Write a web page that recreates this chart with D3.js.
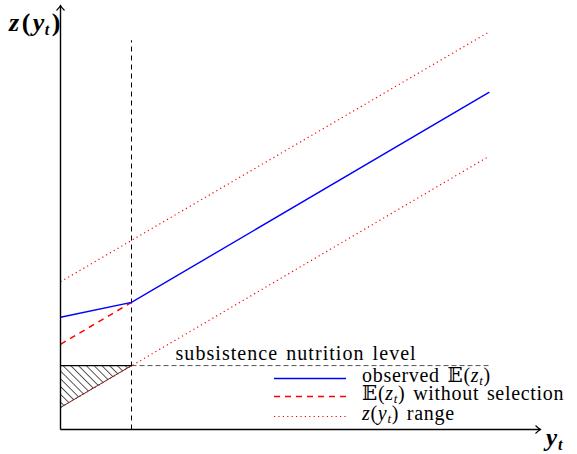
<!DOCTYPE html>
<html lang="en">
  <head>
    <meta charset="utf-8">
    <title>Nutrition and income</title>
    <script src="https://cdn.jsdelivr.net/npm/d3@7"></script>
    <style>
      body { margin: 0; background: #fff; }
      text { font-family: "Liberation Serif", "DejaVu Serif", serif; }
    </style>
  </head>
  <body>
    <script>
      // diagram values (axis units)
      var xKink = 1, xEnd = 6.04, xAxisMax = 6.76, yAxisMax = 5.97, yTop = 5.48;
      var subsistence = 0.9;
      var observedX = [0, xKink, xEnd];
      var observedY = [1.58, 1.79, 4.75];
      var noSelX = [0, xKink];
      var noSelY = [1.2, 1.79];
      var upperX = [0, xEnd];
      var upperY = [2.08, 5.6];
      var lowerX = [0, xEnd];
      var lowerY = [0.31, 3.85];
      var subsistenceEnd = 6.05;
      // legend labels as [text, kind] pieces: n = normal, i = italic, s = subscript
      var legendLabels = [
        [["observed \u{1D53C}(", "n"], ["z", "i"], ["t", "s"], [")", "n"]],
        [["\u{1D53C}(", "n"], ["z", "i"], ["t", "s"], [") without selection", "n"]],
        [["z", "i"], ["(", "n"], ["y", "i"], ["t", "s"], [") range", "n"]]
      ];

      var svg = d3.select("body").append("svg")
                  .attr("width", 577)
                  .attr("height", 454);

      var x = d3.scaleLinear().domain([0, xAxisMax]).range([60.5, 540.5]);
      var y = d3.scaleLinear().domain([0, yAxisMax]).range([429.5, 5.5]);

      var line = d3.line().x(function(d) { return x(d[0]); }).y(function(d) { return y(d[1]); });
      function pts(xs, ys) { return xs.map(function(v, i) { return [v, ys[i]]; }); }

      // hatch pattern for the triangle
      var defs = svg.append("defs");
      var pat = defs.append("pattern")
          .attr("id", "hatch").attr("patternUnits", "userSpaceOnUse")
          .attr("width", 5.5).attr("height", 5.5)
          .attr("patternTransform", "rotate(-45)");
      pat.append("line").attr("x1", 0).attr("y1", 0).attr("x2", 0).attr("y2", 5.5)
          .attr("stroke", "#000").attr("stroke-width", 1.3);

      // shaded triangle below subsistence
      svg.append("path")
         .attr("d", line([[0, subsistence], [xKink, subsistence], [0, lowerY[0]]]) + "Z")
         .attr("fill", "url(#hatch)").attr("stroke", "none");
      svg.append("path")
         .attr("d", line([[0, subsistence], [xKink, subsistence]]))
         .attr("stroke", "#000").attr("stroke-width", 1.3).attr("fill", "none");
      svg.append("path")
         .attr("d", line([[0, lowerY[0]], [xKink, subsistence]]))
         .attr("stroke", "#000").attr("stroke-width", 0.8).attr("fill", "none");

      // subsistence level
      svg.append("path")
         .attr("d", line([[xKink, subsistence], [subsistenceEnd, subsistence]]))
         .attr("stroke", "#555").attr("stroke-width", 1).attr("stroke-dasharray", "5,3").attr("fill", "none");
      svg.append("text").attr("x", x(1.62)).attr("y", y(subsistence) - 6)
         .attr("font-size", 20).attr("letter-spacing", 1.05).attr("word-spacing", 2)
         .text("subsistence nutrition level");

      // vertical dashed at the kink
      svg.append("path")
         .attr("d", line([[xKink, 0], [xKink, yTop]]))
         .attr("stroke", "#000").attr("stroke-width", 1).attr("stroke-dasharray", "5,4").attr("fill", "none");

      // range lines
      [pts(upperX, upperY), pts(lowerX, lowerY)].forEach(function(p) {
        svg.append("path").attr("d", line(p))
           .attr("stroke", "red").attr("stroke-width", 1.2).attr("stroke-dasharray", "1.2,3.2").attr("fill", "none");
      });
      svg.append("path").attr("d", line(pts(noSelX, noSelY)))
         .attr("stroke", "red").attr("stroke-width", 1.5).attr("stroke-dasharray", "6,5").attr("fill", "none");
      svg.append("path").attr("d", line(pts(observedX, observedY)))
         .attr("stroke", "blue").attr("stroke-width", 1.4).attr("fill", "none");

      // axes
      svg.append("path").attr("d", line([[0, 0], [xAxisMax, 0]]))
         .attr("stroke", "#000").attr("stroke-width", 1.4).attr("fill", "none");
      svg.append("path").attr("d", line([[0, 0], [0, yAxisMax]]))
         .attr("stroke", "#000").attr("stroke-width", 1.4).attr("fill", "none");
      svg.append("path")
         .attr("d", "M" + (x(xAxisMax) - 5) + "," + (y(0) - 4) + " Q" + (x(xAxisMax) - 2) + "," + (y(0) - 1) + " " + x(xAxisMax) + "," + y(0) +
                    " Q" + (x(xAxisMax) - 2) + "," + (y(0) + 1) + " " + (x(xAxisMax) - 5) + "," + (y(0) + 4))
         .attr("stroke", "#000").attr("stroke-width", 1.1).attr("fill", "none");
      svg.append("path")
         .attr("d", "M" + (x(0) - 4) + "," + (y(yAxisMax) + 5) + " Q" + (x(0) - 1) + "," + (y(yAxisMax) + 2) + " " + x(0) + "," + y(yAxisMax) +
                    " Q" + (x(0) + 1) + "," + (y(yAxisMax) + 2) + " " + (x(0) + 4) + "," + (y(yAxisMax) + 5))
         .attr("stroke", "#000").attr("stroke-width", 1.1).attr("fill", "none");

      // axis labels
      var yl = svg.append("text").attr("x", 9).attr("y", 31).attr("font-size", 26)
          .attr("font-weight", "bold").attr("letter-spacing", 2.5);
      yl.append("tspan").attr("font-style", "italic").text("z");
      yl.append("tspan").text("(");
      yl.append("tspan").attr("font-style", "italic").text("y");
      yl.append("tspan").attr("font-style", "italic").attr("font-size", 16).attr("dy", 4).attr("dx", -2).text("t");
      yl.append("tspan").attr("dy", -4).text(")");

      var xl = svg.append("text").attr("x", 546).attr("y", 446).attr("font-size", 25)
          .attr("font-weight", "bold").attr("letter-spacing", 1);
      xl.append("tspan").attr("font-style", "italic").text("y");
      xl.append("tspan").attr("font-style", "italic").attr("font-size", 16).attr("dy", 4).text("t");

      // legend
      var legY = [378, 396, 416];
      var legStyle = [
        {stroke: "blue", dash: null, w: 1.4},
        {stroke: "red", dash: "6,5", w: 1.5},
        {stroke: "red", dash: "1.2,3.2", w: 1.2}
      ];
      legY.forEach(function(ly, i) {
        svg.append("line").attr("x1", 274).attr("x2", 346).attr("y1", ly + 0.5).attr("y2", ly + 0.5)
           .attr("stroke", legStyle[i].stroke).attr("stroke-width", legStyle[i].w)
           .attr("stroke-dasharray", legStyle[i].dash);
        var t = svg.append("text").attr("x", 362).attr("y", ly + 4).attr("font-size", 20)
            .attr("letter-spacing", 0.7).attr("word-spacing", 2);
        var shift = 0;
        legendLabels[i].forEach(function(p) {
          var s = t.append("tspan").text(p[0]);
          var dy = (p[1] === "s" ? 3 : 0) - shift;
          shift += dy;
          if (dy) s.attr("dy", dy);
          if (p[1] !== "n") s.attr("font-style", "italic");
          if (p[1] === "s") s.attr("font-size", 13);
        });
      });
    </script>
  </body>
</html>
